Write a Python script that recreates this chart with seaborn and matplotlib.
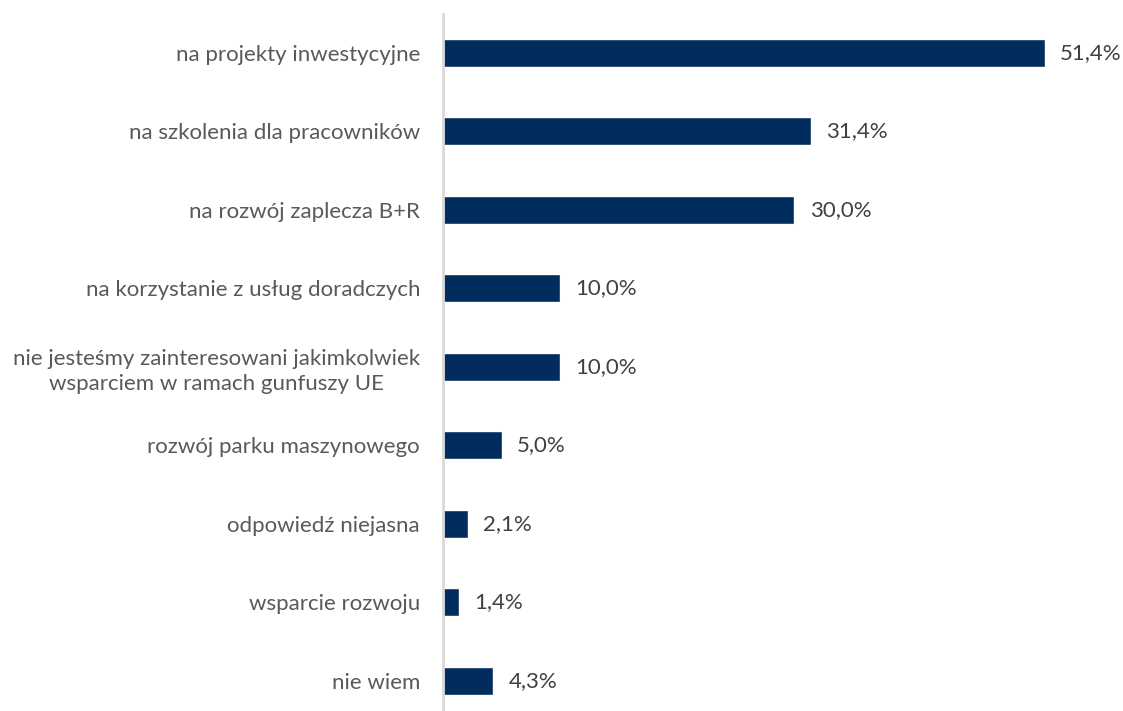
import matplotlib
matplotlib.use("Agg")
import matplotlib.pyplot as plt
import seaborn as sns
import pandas as pd

categories = [
    "na projekty inwestycyjne",
    "na szkolenia dla pracowników",
    "na rozwój zaplecza B+R",
    "na korzystanie z usług doradczych",
    "nie jesteśmy zainteresowani jakimkolwiek\nwsparciem w ramach gunfuszy UE",
    "rozwój parku maszynowego",
    "odpowiedź niejasna",
    "wsparcie rozwoju",
    "nie wiem",
]
values = [51.4, 31.4, 30.0, 10.0, 10.0, 5.0, 2.1, 1.4, 4.3]
value_labels = ["51,4%", "31,4%", "30,0%", "10,0%", "10,0%", "5,0%", "2,1%", "1,4%", "4,3%"]

df = pd.DataFrame({"cat": categories, "val": values})

sns.set_theme(style="white")
plt.rcParams["font.family"] = ["Lato", "DejaVu Sans"]

fig = plt.figure(figsize=(11.23, 7.11), dpi=100)
ax = fig.add_axes([443 / 1123, -9 / 711, 644 / 1123, 706.5 / 711])

sns.barplot(data=df, y="cat", x="val", orient="h", color="#002D5E",
            width=0.36, ax=ax, saturation=1)

ax.set_xlim(0, 55)
ax.set_ylim(8.5, -0.5)
ax.set_xlabel("")
ax.set_ylabel("")
ax.set_xticks([])
for s in ["top", "right", "bottom"]:
    ax.spines[s].set_visible(False)
ax.spines["left"].set_color("#D9D9D9")
ax.spines["left"].set_linewidth(2)
ax.tick_params(axis="y", length=0, pad=16.5, labelsize=16, labelcolor="#595959")
for lbl in ax.get_yticklabels():
    lbl.set_horizontalalignment("right")
    lbl.set_multialignment("center")
    lbl.set_linespacing(1.35)

for i, (v, t) in enumerate(zip(values, value_labels)):
    ax.annotate(t, xy=(v, i), xytext=(11, 0), textcoords="offset points",
                va="center", ha="left", fontsize=16, color="#404040")

fig.savefig("out.png", dpi=100)
